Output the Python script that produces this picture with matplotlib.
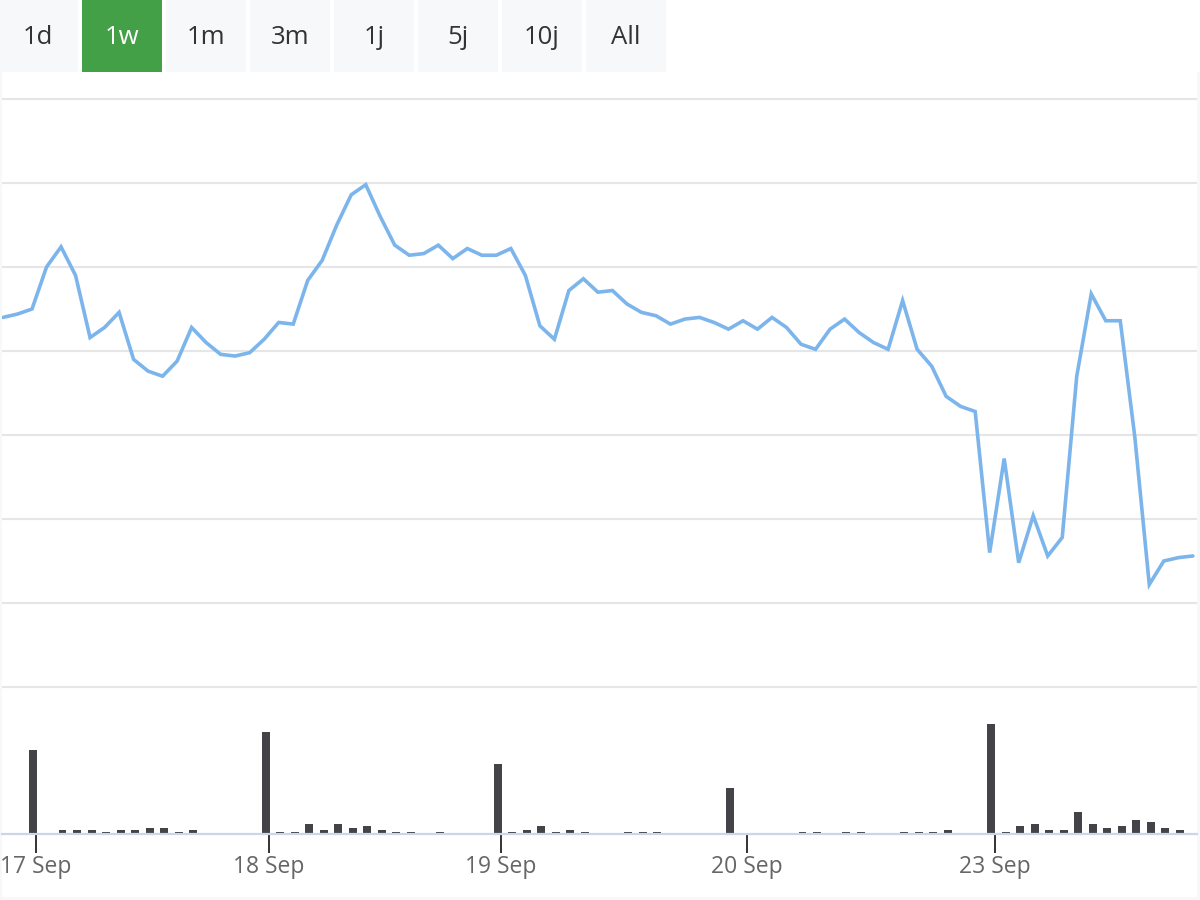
import matplotlib
matplotlib.use("Agg")
import matplotlib.pyplot as plt
from matplotlib.patches import Rectangle

# ---------------- data ----------------
buttons = ["1d", "1w", "1m", "3m", "1j", "5j", "10j", "All"]
active_button = "1w"

price = [11.20, 11.22, 11.25, 11.50, 11.62, 11.45, 11.08, 11.14, 11.23, 10.95,
         10.88, 10.85, 10.94, 11.14, 11.05, 10.98, 10.97, 10.99, 11.07, 11.17,
         11.16, 11.42, 11.54, 11.75, 11.93, 11.99, 11.80, 11.63, 11.57, 11.58,
         11.63, 11.55, 11.61, 11.57, 11.57, 11.61, 11.45, 11.15, 11.07, 11.36,
         11.43, 11.35, 11.36, 11.28, 11.23, 11.21, 11.16, 11.19, 11.20, 11.17,
         11.13, 11.18, 11.13, 11.20, 11.14, 11.04, 11.01, 11.13, 11.19, 11.11,
         11.05, 11.01, 11.30, 11.01, 10.91, 10.73, 10.67, 10.64, 9.80, 10.36,
         9.74, 10.02, 9.78, 9.89, 10.85, 11.34, 11.18, 11.18, 10.49, 9.61,
         9.75, 9.77, 9.78]

volume = [0, 0, 84, 0, 4, 4, 4, 2, 4, 4,
          6, 6, 2, 4, 0, 0, 0, 0, 102, 2,
          2, 10, 4, 10, 6, 8, 4, 2, 2, 0,
          2, 0, 0, 0, 70, 2, 4, 8, 2, 4,
          2, 0, 0, 2, 2, 2, 0, 0, 0, 0,
          46, 0, 0, 0, 0, 2, 2, 0, 2, 2,
          0, 0, 2, 2, 2, 4, 0, 0, 110, 2,
          8, 10, 4, 4, 22, 10, 6, 8, 14, 12,
          6, 4, 0]

tick_pos = [2.27, 18.33, 34.3, 51.27, 68.37]
tick_labels = ["17 Sep", "18 Sep", "19 Sep", "20 Sep", "23 Sep"]
grid_levels = [9.0, 9.5, 10.0, 10.5, 11.0, 11.5, 12.0, 12.5]

# ---------------- layout ----------------
W, H = 1200, 900
FONT = ["Open Sans", "DejaVu Sans"]
plt.rcParams["font.family"] = FONT

fig = plt.figure(figsize=(12, 9), dpi=100)
fig.patch.set_facecolor("white")


def px_axes(x0, y0, x1, y1):
    return fig.add_axes([x0 / W, 1 - y1 / H, (x1 - x0) / W, (y1 - y0) / H])


bg = px_axes(0, 0, W, H)
bg.set_xlim(0, W)
bg.set_ylim(H, 0)
bg.axis("off")
light = "#f7f8fa"
bg.add_patch(Rectangle((0, 72), 2, 828, color=light, lw=0))
bg.add_patch(Rectangle((1197, 72), 3, 828, color=light, lw=0))
bg.add_patch(Rectangle((0, 897), 1200, 3, color=light, lw=0))
for k, lab in enumerate(buttons):
    x0 = k * 84 - 2
    is_active = lab == active_button
    bg.add_patch(Rectangle((x0, 0), 80, 72, color="#43a047" if is_active else light, lw=0))
    bg.text(x0 + 40, 37, lab, ha="center", va="center", fontsize=18.5,
            color="white" if is_active else "#333333")

# x mapping: pixel = 3 + 14.51 * index
def idx(px):
    return (px - 3) / 14.51

# price axes: gridline pixel y = 687 - (v - 9.0) * 168
ax = px_axes(2, 90, 1197, 700)
ax.set_xlim(idx(2), idx(1197))
ax.set_ylim(9.0 - (700 - 687) / 168, 9.0 + (687 - 90) / 168)
ax.set_yticks(grid_levels)
ax.yaxis.grid(True, color="#e6e6e6", lw=1.5)
ax.tick_params(left=False, bottom=False, labelleft=False, labelbottom=False)
for s in ax.spines.values():
    s.set_visible(False)
ax.patch.set_alpha(0)
ax.plot(range(len(price)), price, color="#7cb5ec", lw=2.6, solid_joinstyle="miter",
        solid_capstyle="round", zorder=3)

# volume axes
axv = px_axes(2, 700, 1197, 834)
axv.set_xlim(idx(2), idx(1197))
axv.set_ylim(0, 134)
axv.bar([i + 0.1 for i in range(len(volume))], volume, width=0.55, color="#434348", zorder=2)
for name, s in axv.spines.items():
    s.set_visible(name == "bottom")
axv.spines["bottom"].set_color("#ccd6eb")
axv.spines["bottom"].set_linewidth(1.6)
axv.spines["bottom"].set_zorder(3)
axv.patch.set_alpha(0)
axv.set_yticks([])
axv.set_xticks(tick_pos)
axv.set_xticklabels(tick_labels)
axv.tick_params(axis="x", direction="out", length=13.5, width=1.4, color="#333333",
                labelcolor="#666666", labelsize=16.5, pad=1.5)

fig.savefig("out.png", dpi=100)
